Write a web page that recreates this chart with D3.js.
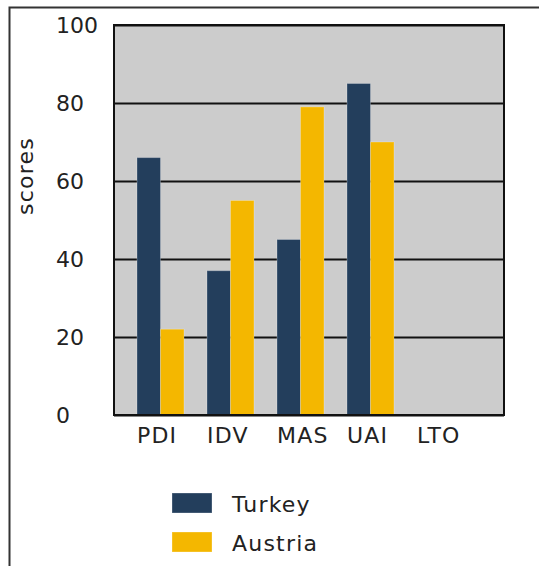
<!DOCTYPE html>
<html>
<head>
<meta charset="utf-8">
<script src="https://cdn.jsdelivr.net/npm/d3@7"></script>
<style>
  body { margin: 0; background: #fff; }
  svg { display: block; }
  text { font-family: "DejaVu Sans", Verdana, sans-serif; fill: #222; }
  .label { letter-spacing: 1.2px; }
</style>
</head>
<body>
<div id="chart"></div>
<script>
// hofstede dimensions
var categories = ['PDI', 'IDV', 'MAS', 'UAI', 'LTO'];
var seriesNames = ['Turkey', 'Austria'];
var turkey = [66, 37, 45, 85, null];
var austria = [22, 55, 79, 70, null];
var yTicks = [0, 20, 40, 60, 80, 100];

var colors = {
  'Turkey': '#233e5c',
  'Austria': '#f4b700'
};

var width = 539, height = 566;
var plot = { left: 114, top: 25, right: 504, bottom: 415 };

var svg = d3.select('#chart').append('svg')
    .attr('width', width)
    .attr('height', height);

// outer frame, runs off the page on the right and bottom
svg.append('rect')
    .attr('x', 9.5).attr('y', 7.5)
    .attr('width', width + 20).attr('height', height + 20)
    .attr('fill', 'none')
    .attr('stroke', '#333')
    .attr('stroke-width', 2);

var y = d3.scaleLinear()
    .domain([0, 100])
    .range([plot.bottom, plot.top]);

// step of 70, bars take 2/3 of it, first group offset by the gap
var gap = 23 / 70;
var x0 = d3.scaleBand()
    .domain(categories)
    .range([plot.left, plot.left + 70 * (categories.length - gap + 2 * gap)])
    .paddingInner(gap)
    .paddingOuter(gap);

var x1 = d3.scaleBand()
    .domain(seriesNames)
    .range([0, x0.bandwidth()]);

svg.append('rect')
    .attr('x', plot.left).attr('y', plot.top)
    .attr('width', plot.right - plot.left)
    .attr('height', plot.bottom - plot.top)
    .attr('fill', '#cccccc');

var yAxis = svg.append('g')
    .attr('transform', 'translate(' + plot.left + ',0)')
    .call(d3.axisLeft(y).tickValues(yTicks).tickSize(-(plot.right - plot.left)).tickPadding(0));

yAxis.select('.domain').remove();
yAxis.selectAll('.tick line')
    .attr('stroke', '#111')
    .attr('stroke-width', 2);
yAxis.selectAll('.tick text')
    .attr('x', 56 - plot.left)
    .attr('text-anchor', 'start')
    .attr('dy', '0.36em')
    .style('font-size', '22px')
    .style('font-family', '"DejaVu Sans", Verdana, sans-serif')
    .attr('fill', '#222');

var rows = categories.map(function (c, i) {
  return { cat: c, values: [
    { name: 'Turkey', value: turkey[i] },
    { name: 'Austria', value: austria[i] }
  ] };
});

svg.append('g').selectAll('g')
    .data(rows)
  .enter().append('g')
    .attr('transform', function (d) { return 'translate(' + x0(d.cat) + ',0)'; })
  .selectAll('rect')
    .data(function (d) { return d.values.filter(function (v) { return v.value != null; }); })
  .enter().append('rect')
    .attr('x', function (d) { return x1(d.name); })
    .attr('y', function (d) { return y(d.value); })
    .attr('width', x1.bandwidth())
    .attr('height', function (d) { return y(0) - y(d.value); })
    .attr('fill', function (d) { return colors[d.name]; })
    .attr('stroke', 'rgba(255,255,255,0.25)')
    .attr('stroke-width', 1);

// plot border on top
svg.append('rect')
    .attr('x', plot.left).attr('y', plot.top)
    .attr('width', plot.right - plot.left)
    .attr('height', plot.bottom - plot.top)
    .attr('fill', 'none')
    .attr('stroke', '#111')
    .attr('stroke-width', 2);

// category labels, left aligned with each group
svg.append('g').selectAll('text')
    .data(categories)
  .enter().append('text')
    .attr('class', 'label')
    .attr('x', function (d) { return x0(d); })
    .attr('y', 443)
    .style('font-size', '22px')
    .text(function (d) { return d; });

svg.append('text')
    .attr('class', 'label')
    .attr('transform', 'translate(33,176) rotate(-90)')
    .attr('text-anchor', 'middle')
    .style('font-size', '22px')
    .text('scores');

var legend = svg.append('g').selectAll('g')
    .data(seriesNames)
  .enter().append('g')
    .attr('transform', function (d, i) { return 'translate(172,' + (493 + i * 39) + ')'; });

legend.append('rect')
    .attr('width', 40).attr('height', 20)
    .attr('fill', function (d) { return colors[d]; })
    .attr('stroke', 'rgba(255,255,255,0.3)');

legend.append('text')
    .attr('class', 'label')
    .attr('x', 60).attr('y', 19)
    .style('font-size', '22px')
    .text(function (d) { return d; });
</script>
</body>
</html>
